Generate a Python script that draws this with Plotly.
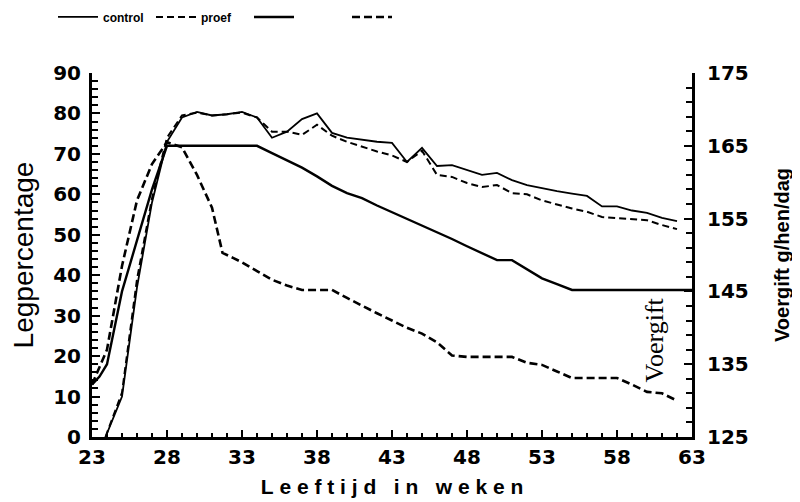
import plotly.graph_objects as go

# ---------------- data ----------------
lay_weeks = [23.9, 25, 26, 27, 28, 29, 30, 31, 32, 33, 34, 35, 36, 37, 38, 39, 40,
             41, 42, 43, 44, 45, 46, 47, 48, 49, 50, 51, 52, 53, 54, 55, 56, 57,
             58, 59, 60, 61, 62]
lay_control = [0, 10, 37, 58, 73, 79, 80.4, 79.5, 79.8, 80.4, 79, 74, 75.5, 78.6, 80,
               75.2, 74, 73.5, 73, 72.7, 68, 71.5, 67, 67.2, 66, 64.8, 65.3, 63.5,
               62.3, 61.5, 60.8, 60.2, 59.6, 57, 57, 56, 55.4, 54.2, 53.4]
lay_proef = [0, 11, 39, 59, 74, 79.5, 80.2, 79.5, 79.8, 80.2, 79, 75.5, 75.5, 74.7,
             77.2, 74.5, 73, 71.8, 70.6, 69.6, 68, 70.8, 64.8, 64.3, 62.8, 61.8, 62.3,
             60.3, 60, 58.5, 57.5, 56.5, 55.7, 54.4, 54.1, 53.8, 53.6, 52.4, 51.4]

feed_c_weeks = [23, 23.5, 24, 25, 26, 27, 28, 29, 30, 31, 32, 33, 34, 35, 36, 37, 38,
                39, 40, 41, 42, 43, 44, 45, 46, 47, 48, 49, 50, 51, 52, 53, 54, 55,
                56, 57, 58, 59, 60, 61, 62, 63]
feed_control = [132.2, 133.3, 135, 145, 152, 159, 165, 165, 165, 165, 165, 165, 165,
                164, 163, 162, 160.8, 159.5, 158.5, 157.8, 156.8, 155.9, 155, 154,
                153.2, 152.2, 151.2, 150.2, 149.3, 149.3, 148, 146.8, 146, 145.2,
                145.2, 145.2, 145.2, 145.2, 145.2, 145.2, 145.2, 145.2]

feed_p_weeks = [23, 24, 25, 26, 27, 28, 29, 30, 31, 31.7, 32.4, 33, 34, 35, 36, 37,
                38, 39, 40, 41, 42, 43, 44, 45, 46, 47, 48, 49, 50, 51, 52, 53, 54,
                55, 56, 57, 58, 59, 60, 61, 62]
feed_proef = [132.2, 137, 148.5, 157.5, 162.5, 165.5, 164.8, 161, 156.5, 150.3, 149.6,
              149, 147.8, 146.6, 145.8, 145.2, 145.2, 145.2, 144.1, 143, 142, 141, 140,
              139.2, 138, 136.2, 136, 136, 136, 136, 135.2, 134.9, 134, 133.1, 133.1,
              133.1, 133.1, 132.2, 131.2, 131, 130]

x_ticks = [23, 28, 33, 38, 43, 48, 53, 58, 63]
left_ticks = [0, 10, 20, 30, 40, 50, 60, 70, 80, 90]
right_ticks = [125, 135, 145, 155, 165, 175]

# ---------------- figure ----------------
fig = go.Figure()
fig.add_trace(go.Scatter(x=lay_weeks, y=lay_control, name="control", mode="lines",
                         line=dict(color="black", width=1.8)))
fig.add_trace(go.Scatter(x=lay_weeks, y=lay_proef, name="proef", mode="lines",
                         line=dict(color="black", width=2, dash="7px,4px")))
fig.add_trace(go.Scatter(x=feed_c_weeks, y=feed_control, name=" ", mode="lines",
                         yaxis="y2", line=dict(color="black", width=2.4)))
fig.add_trace(go.Scatter(x=feed_p_weeks, y=feed_proef, name="  ", mode="lines",
                         yaxis="y2", line=dict(color="black", width=2.6, dash="8px,4px")))

tick_font = dict(family="DejaVu Sans", size=20, color="black", weight="bold")

# page has an 8px body margin, so the figure is 792x494 and offsets are shifted
fig.update_layout(
    width=792, height=494,
    margin=dict(l=84, r=108, t=65, b=65, autoexpand=False),
    paper_bgcolor="white", plot_bgcolor="white",
    showlegend=True,
    legend=dict(orientation="h", x=-0.065, xanchor="left", y=1.154, yanchor="middle",
                itemwidth=40, entrywidth=43, entrywidthmode="pixels",
                font=dict(family="Liberation Sans", size=12, color="black", weight="bold"),
                bgcolor="rgba(0,0,0,0)", borderwidth=0),
    xaxis=dict(range=[23, 63], tickvals=x_ticks, ticktext=[str(v) for v in x_ticks],
               ticks="inside", ticklen=7, tickwidth=2, tickcolor="black",
               minor=dict(tick0=23, dtick=1, ticks="inside", ticklen=4, tickwidth=2,
                          tickcolor="black", showgrid=False),
               showline=True, linewidth=3, linecolor="black", showgrid=False,
               zeroline=False, tickfont=tick_font, ticklabelstandoff=0,
               title=dict(text="L\u00a0e\u00a0e\u00a0f\u00a0t\u00a0i\u00a0j\u00a0d\u00a0\u00a0\u00a0i\u00a0n\u00a0\u00a0\u00a0w\u00a0e\u00a0k\u00a0e\u00a0n",
                          font=dict(family="Liberation Sans", size=21, color="black", weight="bold"),
                          standoff=12)),
    yaxis=dict(range=[0, 90], tickvals=left_ticks, ticks="inside", ticklen=8,
               tickwidth=2, tickcolor="black",
               minor=dict(tick0=0, dtick=2, ticks="inside", ticklen=6, tickwidth=2,
                          tickcolor="black", showgrid=False),
               showline=True, linewidth=3, linecolor="black", showgrid=False,
               zeroline=False, tickfont=tick_font, ticklabelstandoff=4,
               title=dict(text="Legpercentage",
                          font=dict(family="Liberation Sans", size=28, color="black"),
                          standoff=18)),
    yaxis2=dict(range=[125, 175], tickvals=right_ticks, overlaying="y", side="right",
                ticks="inside", ticklen=8, tickwidth=2, tickcolor="black",
                minor=dict(tick0=125, dtick=2, ticks="inside", ticklen=6, tickwidth=2,
                           tickcolor="black", showgrid=False),
                showline=True, linewidth=3, linecolor="black", showgrid=False,
                zeroline=False, tickfont=tick_font, ticklabelstandoff=8,
                title=dict(text="Voergift g/hen/dag",
                           font=dict(family="Liberation Sans", size=20, color="black", weight="bold"),
                           standoff=28)),
    annotations=[dict(x=60.5, y=24, xref="x", yref="y", text="Voergift", textangle=-90,
                      showarrow=False,
                      font=dict(family="Liberation Serif", size=26, color="black"))],
)

fig.write_html("out.html")
